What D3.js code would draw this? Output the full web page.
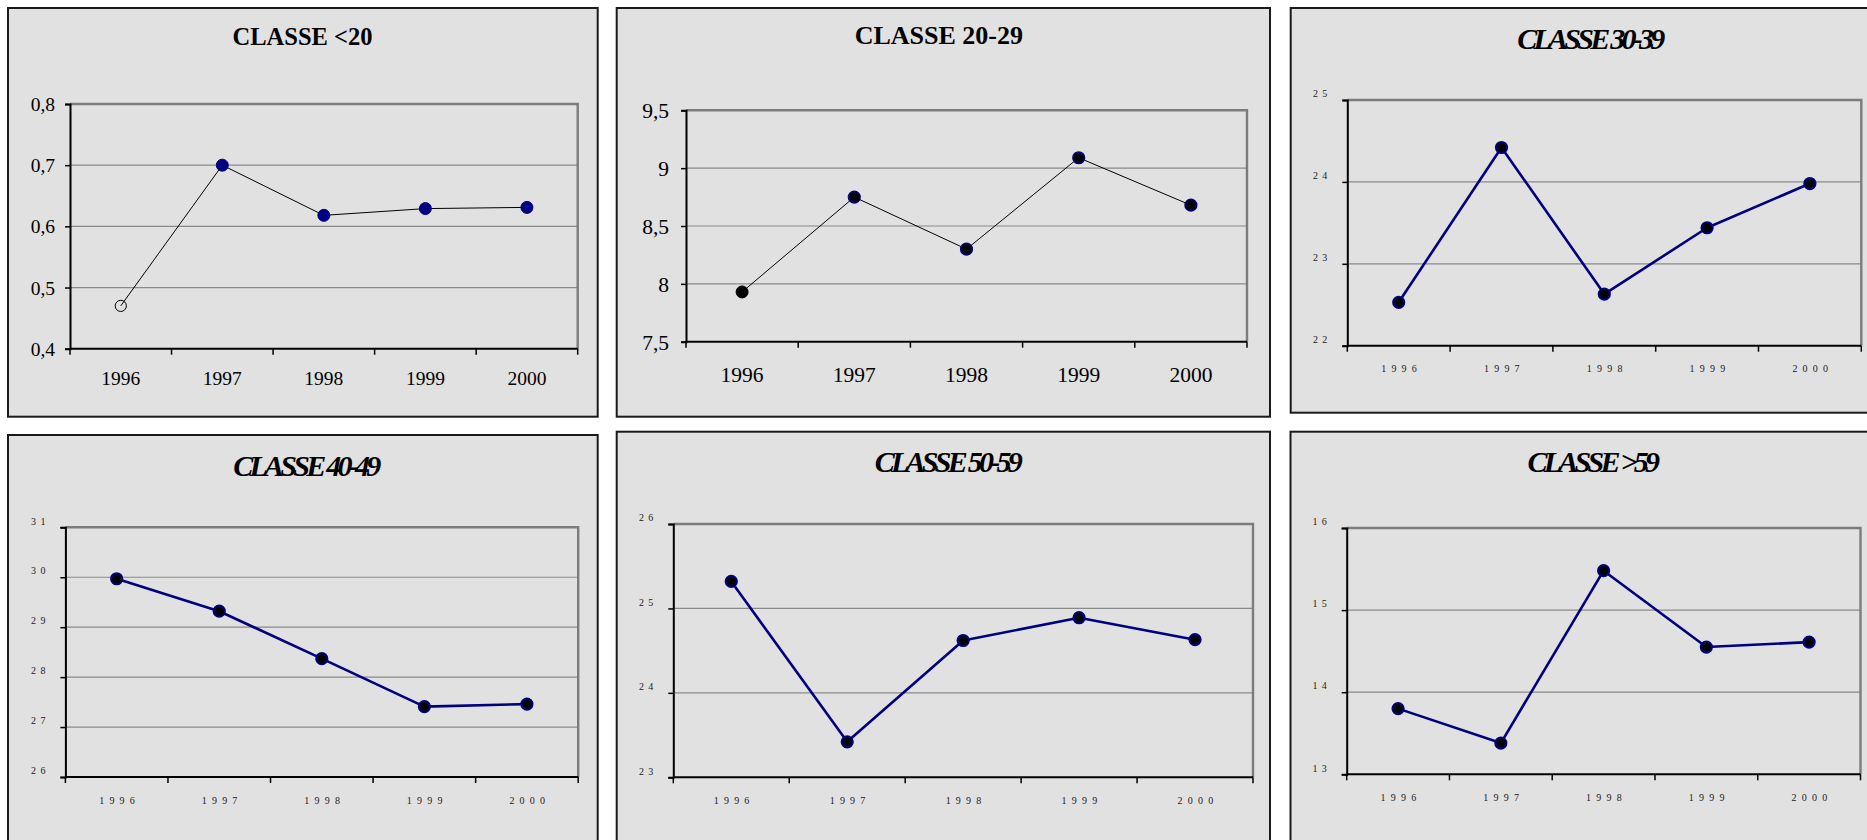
<!DOCTYPE html>
<html>
<head>
<meta charset="utf-8">
<script src="https://cdn.jsdelivr.net/npm/d3@7"></script>
<style>
  html, body { margin: 0; padding: 0; background: #ffffff; }
  svg { display: block; }
</style>
</head>
<body>
<script>
// Years on the horizontal axis
const years = ["1996", "1997", "1998", "1999", "2000"];

// Share per age class, one series per class
const classUnder20 = [0.47, 0.70, 0.618, 0.629, 0.631];
const class20to29 = [7.93, 8.75, 8.30, 9.09, 8.68];
const class30to39 = [22.53, 24.42, 22.63, 23.44, 23.98];
const class40to49 = [29.97, 29.32, 28.37, 27.41, 27.46];
const class50to59 = [25.32, 23.42, 24.62, 24.89, 24.63];
const classOver59 = [13.80, 13.38, 15.48, 14.55, 14.61];

// Vertical tick values per class
const ticksUnder20 = [0.4, 0.5, 0.6, 0.7, 0.8];
const ticks20to29 = [7.5, 8, 8.5, 9, 9.5];
const ticks30to39 = [22, 23, 24, 25];
const ticks40to49 = [26, 27, 28, 29, 30, 31];
const ticks50to59 = [23, 24, 25, 26];
const ticksOver59 = [13, 14, 15, 16];

// Panel titles
const titles = ["CLASSE <20", "CLASSE 20-29", "CLASSE 30-39", "CLASSE 40-49", "CLASSE 50-59", "CLASSE >59"];

const W = 1867, H = 840;
const SERIF = "'Liberation Serif', 'Times New Roman', Times, serif";
const NAVY = "#000080";
const PANEL_BG = "#e1e1e1";

const commaFmt = d3.formatLocale({ decimal: ",", thousands: ".", grouping: [3], currency: ["", ""] }).format("~g");
const intFmt = d3.format("d");

// Panel geometry: frame [x0, y0, x1, y1], plot area [left, top, right, bottom]
const panels = [
  { title: titles[0], values: classUnder20, ticks: ticksUnder20, kind: "plain",
    frame: [8, 8, 597.7, 416.7], plot: [70, 104, 577.7, 348.7],
    titleX: 302.5, titleY: 45, titleSize: 24.5, labelSize: 19.5, xLabelDy: 36, yGap: 15 },
  { title: titles[1], values: class20to29, ticks: ticks20to29, kind: "plain",
    frame: [616.7, 8, 1270, 416.7], plot: [686, 110.3, 1247, 341.7],
    titleX: 938.8, titleY: 43.5, titleSize: 26, labelSize: 21.5, xLabelDy: 40, yGap: 17 },
  { title: titles[2], values: class30to39, ticks: ticks30to39, kind: "fine",
    frame: [1290.7, 8, 1875, 412.7], plot: [1347.3, 100, 1861.3, 345.7],
    titleX: 1587.5, titleY: 49.3 },
  { title: titles[3], values: class40to49, ticks: ticks40to49, kind: "fine",
    frame: [8, 435, 597.7, 850], plot: [65.4, 527.3, 578.2, 777],
    titleX: 303.5, titleY: 476 },
  { title: titles[4], values: class50to59, ticks: ticks50to59, kind: "fine",
    frame: [616.7, 431.7, 1270, 850], plot: [673.3, 524, 1253, 777.3],
    titleX: 945, titleY: 472 },
  { title: titles[5], values: classOver59, ticks: ticksOver59, kind: "fine",
    frame: [1290.5, 431.7, 1875, 850], plot: [1346.7, 528, 1860.5, 774.3],
    titleX: 1590, titleY: 472 }
];

const svg = d3.select("body").append("svg")
  .attr("width", W).attr("height", H)
  .style("font-family", SERIF);

panels.forEach(p => {
  const g = svg.append("g");
  const [fx0, fy0, fx1, fy1] = p.frame;
  const [pl, pt, pr, pb] = p.plot;
  const fine = p.kind === "fine";

  // panel background and border
  g.append("rect")
    .attr("x", fx0).attr("y", fy0)
    .attr("width", fx1 - fx0).attr("height", fy1 - fy0)
    .attr("fill", PANEL_BG).attr("stroke", "#1a1a1a").attr("stroke-width", 2);

  const x = d3.scaleBand().domain(years).range([pl, pr]).paddingInner(0).paddingOuter(0);
  const y = d3.scaleLinear().domain(d3.extent(p.ticks)).range([pb, pt]);

  // horizontal gridlines
  const yMin = d3.min(p.ticks), yMax = d3.max(p.ticks);
  g.append("g").selectAll("line")
    .data(p.ticks.filter(t => t !== yMin && t !== yMax))
    .join("line")
    .attr("x1", pl).attr("x2", pr)
    .attr("y1", d => y(d)).attr("y2", d => y(d))
    .attr("stroke", "#8a8a8a").attr("stroke-width", 1.2);

  // gray frame on top and right of the plot area
  g.append("path")
    .attr("d", `M${pl},${y(yMax)}H${pr}V${pb}`)
    .attr("fill", "none").attr("stroke", "#7c7c7c").attr("stroke-width", 2.4);

  // vertical axis
  const ls = fine ? 4.3 : 0;
  const yAxis = d3.axisLeft(y).tickValues(p.ticks).tickSize(5)
    .tickFormat(fine ? intFmt : commaFmt)
    .tickPadding(fine ? 15 : p.yGap - 5);
  const ya = g.append("g").attr("transform", `translate(${pl},0)`).call(yAxis);
  ya.select(".domain").attr("stroke", "#000").attr("stroke-width", 2);
  ya.selectAll(".tick line").attr("stroke", "#000").attr("stroke-width", 1.5);
  ya.selectAll(".tick text")
    .attr("fill", fine ? "#222" : "#000")
    .style("font-family", SERIF)
    .style("font-size", (fine ? 10 : p.labelSize) + "px")
    .style("letter-spacing", ls + "px");
  if (fine) {
    ya.selectAll(".tick text").attr("x", -20 + ls).attr("dy", null).attr("y", -3.3);
  } else {
    ya.selectAll(".tick text").attr("dy", "0.34em");
  }

  // horizontal axis: labels centred in each band
  const xls = fine ? 5.2 : 0;
  const xAxis = d3.axisBottom(x).tickSize(0).tickPadding(0);
  const xa = g.append("g").attr("transform", `translate(0,${pb})`).call(xAxis);
  xa.select(".domain").remove();
  xa.selectAll(".tick text")
    .attr("dy", null)
    .attr("y", fine ? 26.5 : p.xLabelDy)
    .attr("x", fine ? xls / 2 + 0.3 : 0)
    .attr("fill", fine ? "#222" : "#000")
    .style("font-family", SERIF)
    .style("font-size", (fine ? 10 : p.labelSize) + "px")
    .style("letter-spacing", xls + "px");

  // axis baseline and tick marks on band boundaries
  g.append("line")
    .attr("x1", pl).attr("x2", pr).attr("y1", pb).attr("y2", pb)
    .attr("stroke", "#000").attr("stroke-width", 2);
  const bounds = years.map(d => x(d)).concat([x.range()[1]]);
  g.append("g").selectAll("line")
    .data(bounds)
    .join("line")
    .attr("x1", d => d).attr("x2", d => d)
    .attr("y1", pb).attr("y2", pb + 6)
    .attr("stroke", "#000").attr("stroke-width", 1.5);

  // series line
  const line = d3.line()
    .x((d, i) => x(years[i]) + x.bandwidth() / 2)
    .y(d => y(d));
  g.append("path")
    .datum(p.values)
    .attr("d", line)
    .attr("fill", "none")
    .attr("stroke", fine ? NAVY : "#000")
    .attr("stroke-width", fine ? 2.6 : 1)
    .attr("stroke-linejoin", "round");

  // markers
  g.append("g").selectAll("circle")
    .data(p.values)
    .join("circle")
    .attr("cx", (d, i) => x(years[i]) + x.bandwidth() / 2)
    .attr("cy", d => y(d))
    .each(function (d, i) {
      const c = d3.select(this);
      if (fine) {
        c.attr("r", 5.6).attr("fill", "#000").attr("stroke", NAVY).attr("stroke-width", 2);
      } else if (p.title === titles[0]) {
        if (i === 0) c.attr("r", 5.6).attr("fill", "none").attr("stroke", "#000").attr("stroke-width", 1);
        else c.attr("r", 6).attr("fill", NAVY).attr("stroke", NAVY).attr("stroke-width", 1);
      } else {
        if (i === 0) c.attr("r", 6).attr("fill", "#000").attr("stroke", "#000").attr("stroke-width", 1);
        else c.attr("r", 5.8).attr("fill", "#000").attr("stroke", NAVY).attr("stroke-width", 1.6);
      }
    });

  // title
  const tls = fine ? -3.75 : 0;
  g.append("text")
    .attr("x", p.titleX - tls / 2)
    .attr("y", p.titleY)
    .attr("text-anchor", "middle")
    .attr("fill", "#000")
    .style("font-family", SERIF)
    .style("font-weight", "bold")
    .style("font-style", fine ? "italic" : "normal")
    .style("font-size", (fine ? 30 : p.titleSize) + "px")
    .style("letter-spacing", tls + "px")
    .text(p.title);
});
</script>
</body>
</html>
